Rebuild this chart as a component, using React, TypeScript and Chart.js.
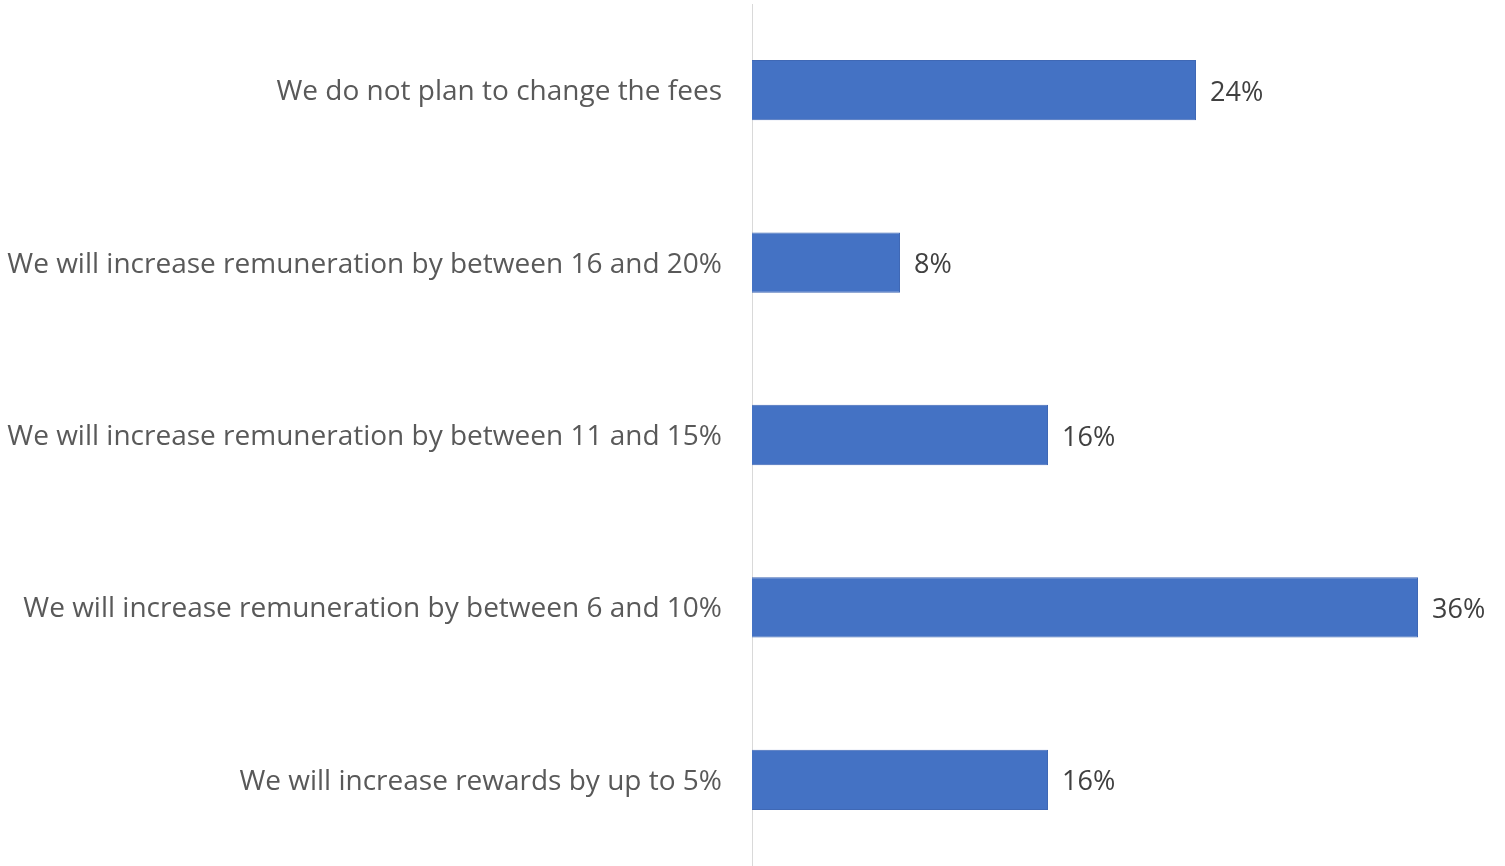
import React, { useEffect, useRef } from "react";
import { Chart, registerables } from "chart.js";

Chart.register(...registerables);

const categories: string[] = [
  "We do not plan to change the fees",
  "We will increase remuneration by between 16 and 20%",
  "We will increase remuneration by between 11 and 15%",
  "We will increase remuneration by between 6 and 10%",
  "We will increase rewards by up to 5%",
];
const values: number[] = [24, 8, 16, 36, 16];

const FONT = "'Open Sans', sans-serif";

const valueLabels = {
  id: "valueLabels",
  afterDatasetsDraw(chart: any) {
    const ctx = chart.ctx;
    const meta = chart.getDatasetMeta(0);
    ctx.save();
    ctx.font = `27px ${FONT}`;
    ctx.fillStyle = "#404040";
    ctx.textAlign = "left";
    ctx.textBaseline = "middle";
    meta.data.forEach((bar: any, i: number) => {
      ctx.fillText(`${values[i]}%`, bar.x + 14, bar.y + 3);
    });
    ctx.restore();
  },
};

export default function App() {
  const ref = useRef<HTMLCanvasElement | null>(null);
  useEffect(() => {
    if (!ref.current) return;
    const chart = new Chart(ref.current, {
      type: "bar",
      data: {
        labels: categories,
        datasets: [
          {
            data: values,
            backgroundColor: "#4472C4",
            borderColor: "#3F68B5",
            borderWidth: 1,
            barPercentage: 0.35,
            categoryPercentage: 1,
          },
        ],
      },
      options: {
        indexAxis: "y",
        animation: false,
        responsive: true,
        maintainAspectRatio: false,
        layout: { padding: { top: 4, right: 13, bottom: 0, left: 0 } },
        plugins: { legend: { display: false }, tooltip: { enabled: false } },
        scales: {
          x: { display: false, min: 0, max: 40 },
          y: {
            afterFit(scale: any) {
              scale.width = 752;
              scale.paddingTop = 0;
              scale.paddingBottom = 0;
            },
            grid: { display: false, drawTicks: false },
            border: { display: true, color: "#D9D9D9", width: 1 },
            ticks: {
              padding: 30,
              labelOffset: 2,
              color: "#595959",
              font: { family: FONT, size: 28 },
            },
          },
        },
      },
      plugins: [valueLabels],
    });
    return () => chart.destroy();
  }, []);
  return (
    <div style={{ position: "fixed", left: 0, top: 0, width: 1505, height: 866, background: "#fff" }}>
      <canvas ref={ref} />
    </div>
  );
}
